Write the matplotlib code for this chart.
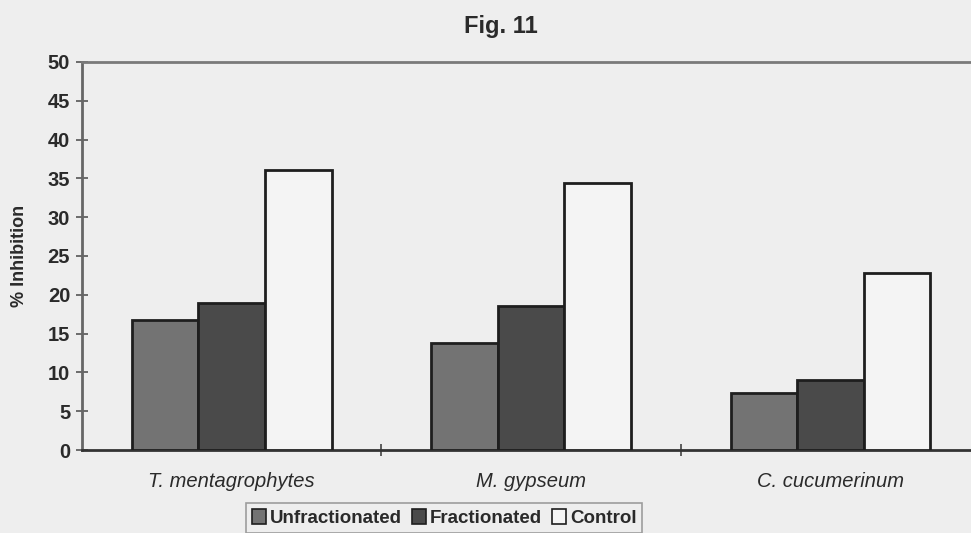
import numpy as np
import matplotlib.pyplot as plt
from matplotlib.patches import Patch

plt.rcParams['font.family'] = ['Liberation Sans', 'DejaVu Sans']

species = ['T. mentagrophytes', 'M. gypseum', 'C. cucumerinum']
unfractionated = [16.8, 13.8, 7.4]
fractionated = [19.0, 18.5, 9.0]
control = [36.1, 34.4, 22.8]

series = ['Unfractionated', 'Fractionated', 'Control']
colors = ['#737373', '#4a4a4a', '#f4f4f4']
bg = '#eeeeee'

fig = plt.figure(figsize=(9.71, 5.33), dpi=100, facecolor=bg)
ax = fig.add_axes([0.0845, 0.1557, 0.925, 0.728])
ax.set_facecolor(bg)

x = np.arange(len(species))
w = 1 / 4.5
for i, (vals, c) in enumerate(zip([unfractionated, fractionated, control], colors)):
    ax.bar(x + (i - 1) * w, vals, w, color=c, edgecolor='#1e1e1e', linewidth=2.0, zorder=3)

ax.set_xlim(-0.5, 2.5)
ax.set_ylim(0, 50)
ax.set_yticks(np.arange(0, 51, 5))
ax.tick_params(axis='y', direction='inout', length=9, width=1.2, color='#555555',
               labelsize=14.5, pad=4)
for lab in ax.get_yticklabels():
    lab.set_fontweight('bold')
    lab.set_color('#2a2a2a')

# boundaries between groups get the tick marks, names sit at the centres
ax.set_xticks([0.5, 1.5])
ax.set_xticklabels([])
ax.tick_params(axis='x', which='major', direction='inout', length=8, width=1.2, color='#444444')
ax.set_xticks(x, minor=True)
ax.set_xticklabels(species, minor=True, style='italic', fontsize=14.5, color='#2a2a2a')
ax.tick_params(axis='x', which='minor', length=0, pad=16)

ax.spines['right'].set_visible(False)
ax.spines['top'].set_color('#7a7a7a')
ax.spines['top'].set_linewidth(2)
ax.spines['left'].set_color('#666666')
ax.spines['left'].set_linewidth(2)
ax.spines['bottom'].set_color('#333333')
ax.spines['bottom'].set_linewidth(2)

ax.set_ylabel('% Inhibition', fontsize=13, fontweight='bold', color='#2a2a2a')
ax.yaxis.set_label_coords(-0.06, 0.5)

fig.text(0.516, 0.95, 'Fig. 11', ha='center', va='center', fontsize=17,
         fontweight='bold', color='#2a2a2a')

handles = [Patch(facecolor=c, edgecolor='#1e1e1e', linewidth=1.2) for c in colors]
leg = fig.legend(handles, series, loc='upper left', bbox_to_anchor=(237 / 971, 1 - 494 / 533),
                 ncol=3, frameon=True, fancybox=False, edgecolor='#888888', facecolor=bg,
                 handlelength=0.75, handleheight=0.85, handletextpad=0.2, columnspacing=0.55,
                 borderpad=0.3, prop={'weight': 'bold', 'size': 13.5})
leg.get_frame().set_linewidth(1.2)
for t in leg.get_texts():
    t.set_color('#2a2a2a')

fig.savefig('out.png', dpi=100, facecolor=bg)
